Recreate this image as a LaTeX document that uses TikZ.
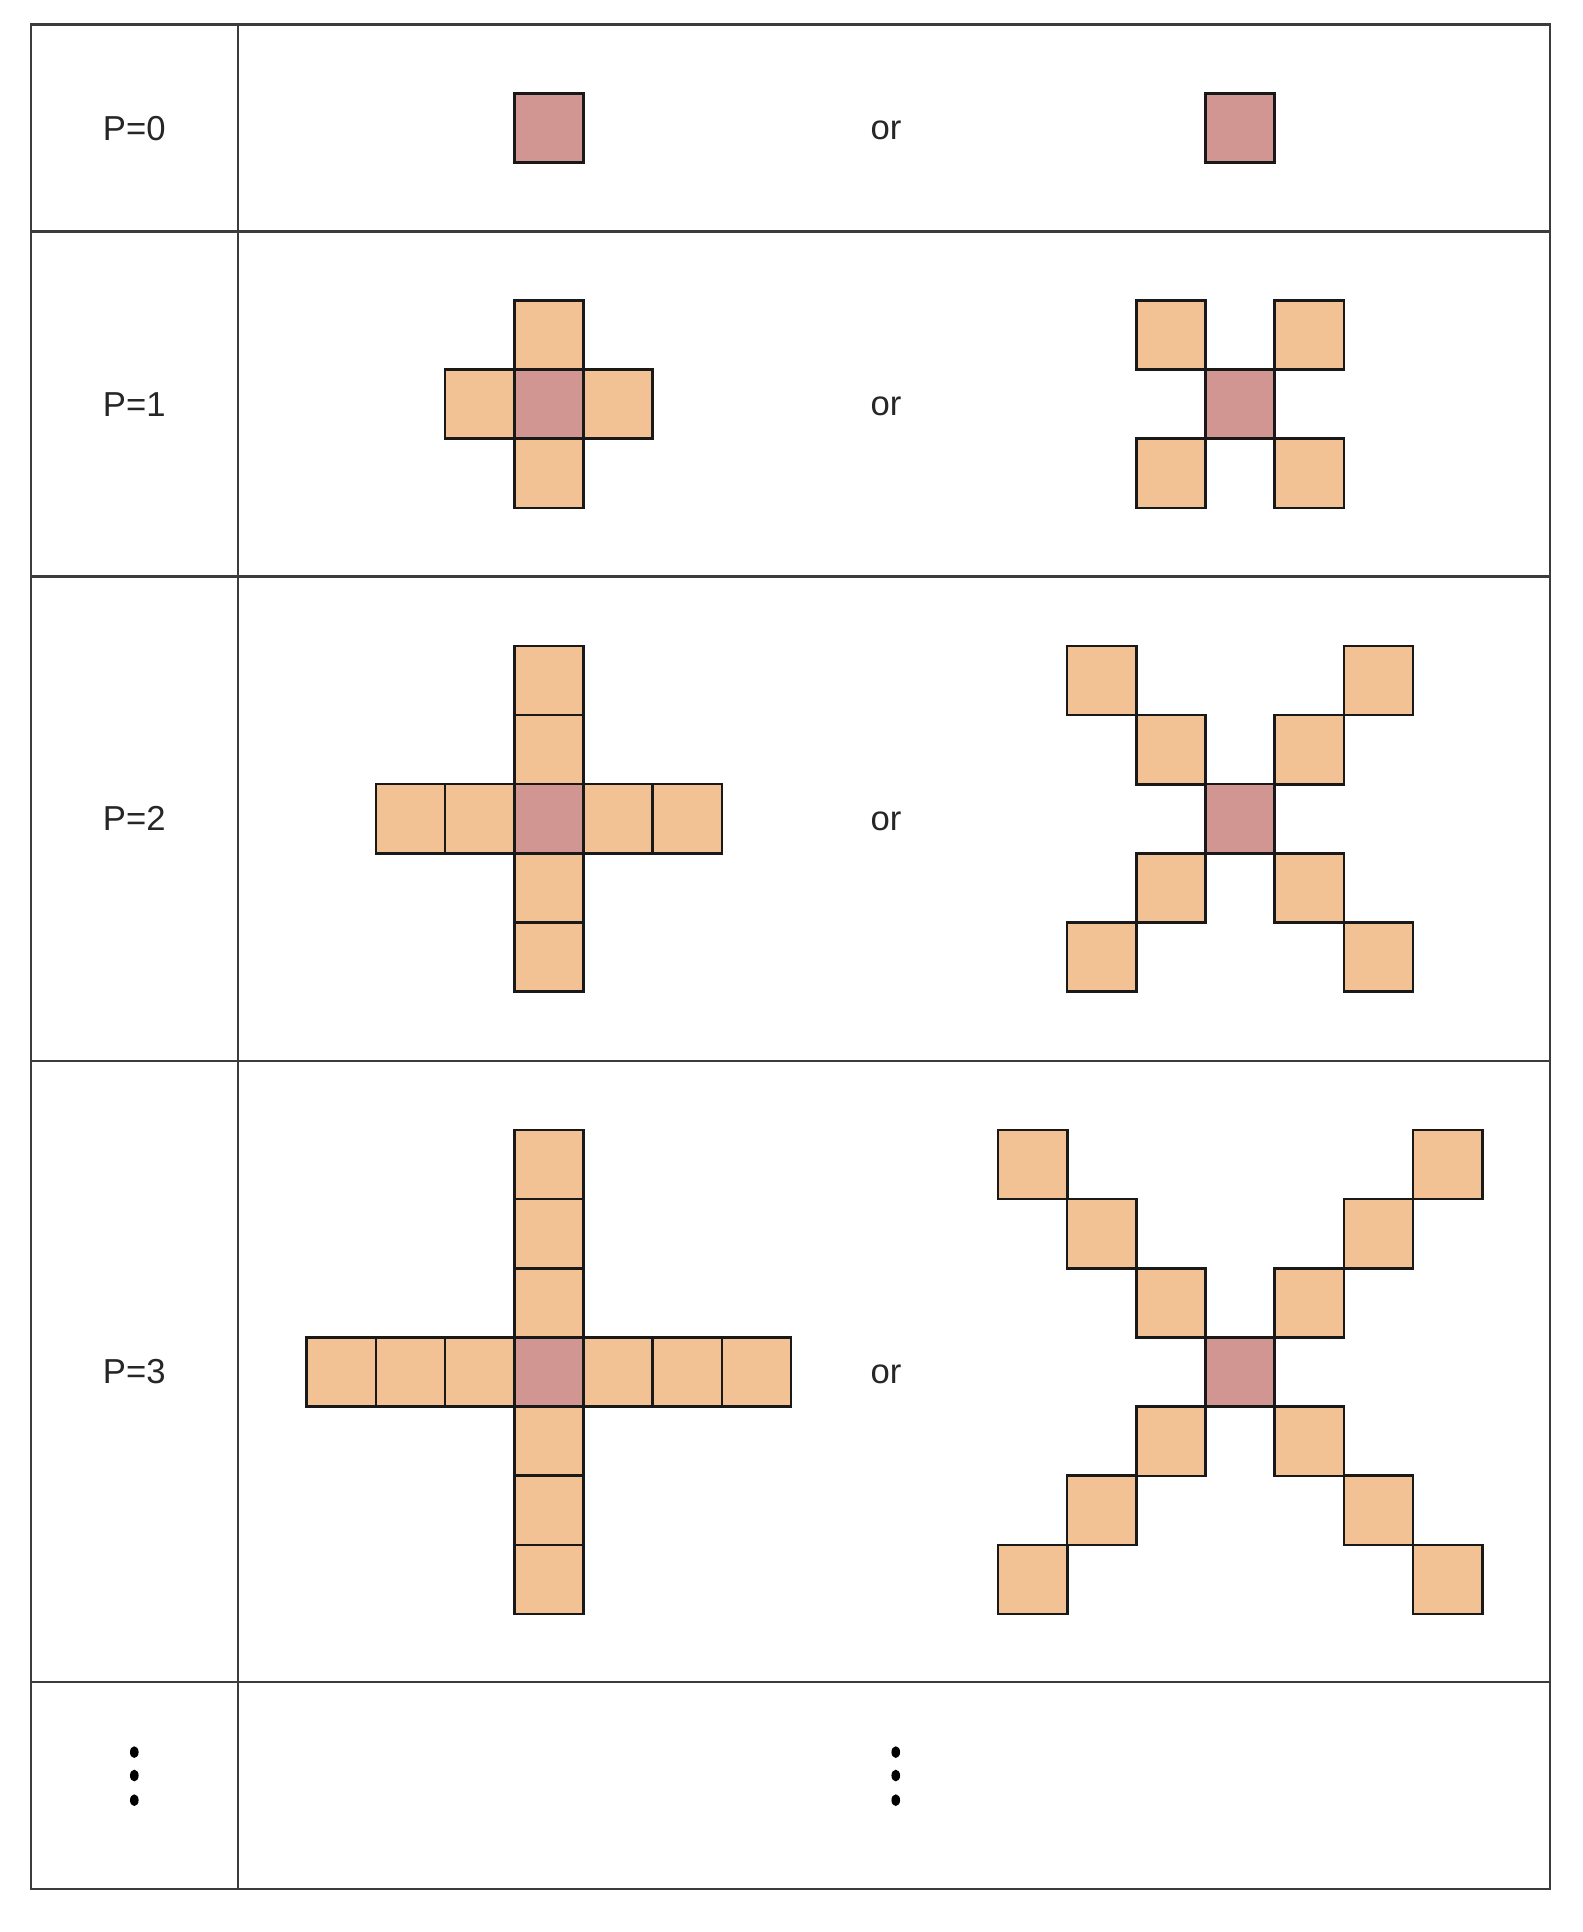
\documentclass[tikz,border=0pt]{standalone}
\usepackage{fontspec}
\setmainfont{Liberation Sans}
\usetikzlibrary{shapes.geometric}
\definecolor{centerc}{RGB}{209,150,146}
\definecolor{armc}{RGB}{242,194,148}
\definecolor{linec}{RGB}{60,60,60}
\begin{document}
\begin{tikzpicture}[x=0.01cm,y=-0.01cm,
  sq/.style={draw=black!90, line width=0.6pt, minimum size=0.5615cm, inner sep=0pt, outer sep=0pt},
  cellc/.style={sq, fill=centerc},
  cello/.style={sq, fill=armc},
  tline/.style={draw=linec, line width=0.6pt},
  lbl/.style={font=\fontsize{8}{9}\selectfont, text=black!85, inner sep=0pt},
  dotn/.style={ellipse, fill=black, inner sep=0pt, minimum width=0.07cm, minimum height=0.095cm}
]
\useasboundingbox (0,0) rectangle (1284,1568);
% table
\draw[tline] (25,20) rectangle (1258,1533);
\draw[tline] (193,20) -- (193,1533);
\foreach \yy in {188,468,861,1365} \draw[tline] (25,\yy) -- (1258,\yy);
% labels
\node[lbl] (p0) at (109,104) {P=0};
\node[lbl] (p1) at (109,328) {P=1};
\node[lbl] (p2) at (109,664.5) {P=2};
\node[lbl] (p3) at (109,1113.5) {P=3};
\node[lbl] (or0) at (719,106) {or};
\node[lbl] (or1) at (719,330) {or};
\node[lbl] (or2) at (719,666.5) {or};
\node[lbl] (or3) at (719,1115.5) {or};
% P=0
\node[cellc] (c0a) at (445.5,104) {};
\node[cellc] (c0b) at (1006.5,104) {};
% P=1..3
\foreach \k/\y in {1/328,2/664.5,3/1113.5}{
  \foreach \i in {1,...,\k}{
    \node[cello] (a\k n\i) at ({445.5},{\y-\i*56.15}) {};
    \node[cello] (a\k s\i) at ({445.5},{\y+\i*56.15}) {};
    \node[cello] (a\k w\i) at ({445.5-\i*56.15},{\y}) {};
    \node[cello] (a\k e\i) at ({445.5+\i*56.15},{\y}) {};
    \node[cello] (b\k nw\i) at ({1006.5-\i*56.15},{\y-\i*56.15}) {};
    \node[cello] (b\k ne\i) at ({1006.5+\i*56.15},{\y-\i*56.15}) {};
    \node[cello] (b\k sw\i) at ({1006.5-\i*56.15},{\y+\i*56.15}) {};
    \node[cello] (b\k se\i) at ({1006.5+\i*56.15},{\y+\i*56.15}) {};
  }
  \node[cellc] (c\k a) at (445.5,\y) {};
  \node[cellc] (c\k b) at (1006.5,\y) {};
}
% dots
\foreach \x/\n in {109/l,727/r}{
  \node[dotn] (d\n1) at (\x,1422) {};
  \node[dotn] (d\n2) at (\x,1441) {};
  \node[dotn] (d\n3) at (\x,1461) {};
}
\end{tikzpicture}
\end{document}
